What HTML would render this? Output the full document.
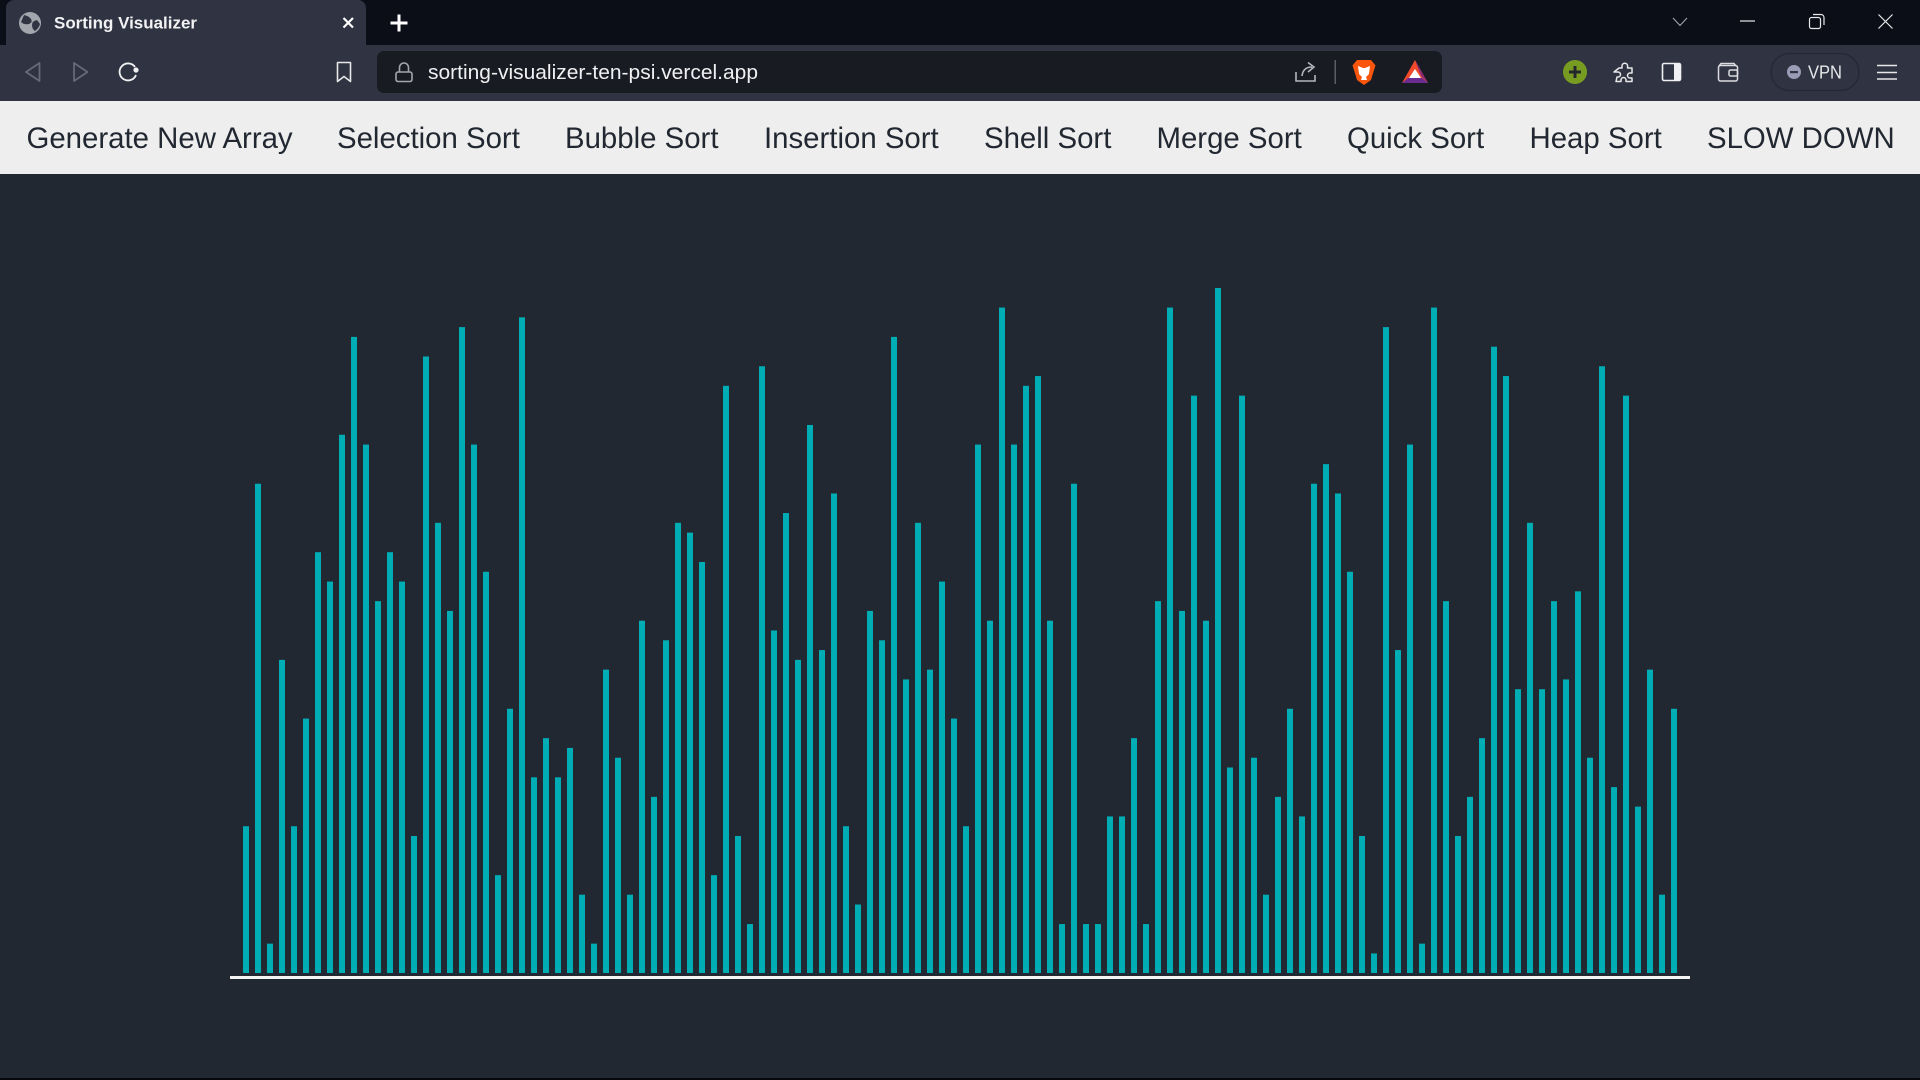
<!DOCTYPE html>
<html lang="en">
<head>
<meta charset="utf-8">
<title>Sorting Visualizer</title>
<style>
html,body{margin:0;padding:0;width:1920px;height:1080px;overflow:hidden;background:#222831;font-family:"Liberation Sans",sans-serif}
#chrome{position:absolute;left:0;top:0;width:1920px;height:101px;display:block}
#nav{position:absolute;left:0;top:101px;width:1920px;height:73px;background:#eeeeee}
.nb{position:absolute;top:0;height:73px;line-height:75px;font-size:29.39px;color:#222831;white-space:nowrap;cursor:pointer}
#chart{position:absolute;left:0;top:174px;width:1920px;height:906px;display:block}
</style>
</head>
<body>
<svg id="chrome" viewBox="0 0 1920 101" xmlns="http://www.w3.org/2000/svg">
  <rect x="0" y="0" width="1920" height="45" fill="#0c0e17"/>
  <rect x="0" y="45" width="1920" height="56" fill="#303442"/>
  <path d="M6 45V8a8 8 0 0 1 8-8H358a8 8 0 0 1 8 8V45Z" fill="#303442"/>
  <g>
    <circle cx="30" cy="23" r="11" fill="#a4a6ae"/>
    <path d="M24 15q5 1 7 4t-2 5q-5 1-8-2M37 20q-5 1-5 5t3 6q4-3 5-7Z" fill="#303442"/>
  </g>
  <text x="54" y="28.500" font-size="16.500" font-weight="bold" fill="#f2f2f4" textLength="143" lengthAdjust="spacingAndGlyphs" font-family="Liberation Sans, sans-serif">Sorting Visualizer</text>
  <path d="M343.500 18L353 27.500M353 18L343.500 27.500" stroke="#fff" stroke-width="2.200" fill="none"/>
  <path d="M399 14.500V31.500M390.500 23H407.500" stroke="#fff" stroke-width="3" fill="none"/>
  <path d="M1673 18L1680 25.500L1687 18" stroke="#a9abb2" stroke-width="1" fill="none"/>
  <path d="M1740 21H1755" stroke="#e8e8ea" stroke-width="1.200" fill="none"/>
  <g fill="none" stroke="#e8e8ea" stroke-width="1.200">
    <rect x="1809.500" y="17.500" width="11" height="11" rx="2"/>
    <path d="M1813 14.500H1821a3 3 0 0 1 3 3V25"/>
  </g>
  <path d="M1878.500 14.500L1892.500 28.500M1892.500 14.500L1878.500 28.500" stroke="#e8e8ea" stroke-width="1.200" fill="none"/>

  <path d="M39.500 63V81L26 72Z" fill="none" stroke="#666a76" stroke-width="1.800" stroke-linejoin="round"/>
  <path d="M74 63V81L87.500 72Z" fill="none" stroke="#666a76" stroke-width="1.800" stroke-linejoin="round"/>
  <g>
    <path d="M135 67A8.500 8.500 0 1 0 136 75" fill="none" stroke="#f0f0f2" stroke-width="1.800"/>
    <circle cx="136" cy="70" r="2.600" fill="#f0f0f2"/>
  </g>
  <path d="M337.500 62.500H350.500V81.500L344 76.500L337.500 81.500Z" fill="none" stroke="#e8e8ea" stroke-width="1.600" stroke-linejoin="round"/>

  <rect x="377" y="51" width="1065" height="42" rx="7" fill="#191b22"/>
  <g fill="none" stroke="#a4a6ae" stroke-width="1.600">
    <rect x="396" y="72" width="16" height="9.500" rx="2"/>
    <path d="M399.500 72V67.500a4.500 4.500 0 0 1 9 0V72"/>
  </g>
  <text x="428" y="79" font-size="20" fill="#f0f0f2" textLength="330" lengthAdjust="spacingAndGlyphs" font-family="Liberation Sans, sans-serif">sorting-visualizer-ten-psi.vercel.app</text>
  <path d="M1296 72V81H1315V75M1302 76Q1303 67 1312 67M1308 62.500L1314 67L1308 72" fill="none" stroke="#b4b6bc" stroke-width="1.600"/>
  <rect x="1334.500" y="60" width="1.500" height="24" fill="#5a5d66"/>
  <g>
    <path d="M1357 60H1371L1375.500 65.500L1374 70L1371 80L1364 85L1357 80L1354 70L1352.500 65.500Z" fill="#f9550d"/>
    <path d="M1358 66L1363 68H1365L1370 66L1369 74L1366 77L1367 80H1361L1362 77L1359 74Z" fill="#fff"/>
  </g>
  <g>
    <path d="M1415 60L1428 83H1402Z" fill="#f04a2a"/>
    <path d="M1415 60L1428 83L1421 76Z" fill="#8a2a78"/>
    <path d="M1402 83L1408 78H1422L1428 83Z" fill="#6a2c91"/>
    <path d="M1415 69L1421 78H1409Z" fill="#ffffff"/>
  </g>
  <g>
    <circle cx="1575" cy="72" r="12" fill="#789c22"/>
    <path d="M1575 66V78M1569 72H1581" stroke="#24282c" stroke-width="3"/>
  </g>
  <path d="M1619 68H1622V66a2.800 2.800 0 0 1 5.600 0V68H1632V73H1630a2.500 2.500 0 0 0 0 5H1632V81.500H1626V80a2.500 2.500 0 0 0-5 0V81.500H1616L1617 77H1618a2.500 2.500 0 0 0 0-5H1614L1619 68Z" fill="none" stroke="#e8e8ea" stroke-width="1.500" stroke-linejoin="round"/>
  <g>
    <rect x="1662.500" y="63.500" width="18" height="17" rx="1.500" fill="none" stroke="#f0f0f2" stroke-width="1.600"/>
    <rect x="1674" y="63.500" width="6.500" height="17" fill="#f0f0f2"/>
  </g>
  <g fill="none" stroke="#dcdce0" stroke-width="1.500">
    <rect x="1718.500" y="65.500" width="19" height="15.500" rx="2"/>
    <path d="M1719 66L1721 63.500H1734L1736 66"/>
    <rect x="1729" y="70" width="8.500" height="6" rx="1.500"/>
  </g>
  <g>
    <rect x="1771" y="53.500" width="88" height="37" rx="18.500" fill="none" stroke="#262935" stroke-width="1.500"/>
    <circle cx="1794" cy="72" r="7" fill="#9a9cb5"/>
    <rect x="1790" y="71" width="8" height="2.200" fill="#303442"/>
    <text x="1808" y="78.500" font-size="18" fill="#e8e8ea" textLength="34" lengthAdjust="spacingAndGlyphs" font-family="Liberation Sans, sans-serif">VPN</text>
  </g>
  <path d="M1877 65.500H1897M1877 72.500H1897M1877 79H1897" stroke="#e8e8ea" stroke-width="1.500" fill="none"/>
</svg>

<div id="nav">
  <div class="nb" style="left:26.500px">Generate New Array</div>
  <div class="nb" style="left:337px">Selection Sort</div>
  <div class="nb" style="left:565px">Bubble Sort</div>
  <div class="nb" style="left:764px">Insertion Sort</div>
  <div class="nb" style="left:984px">Shell Sort</div>
  <div class="nb" style="left:1156.500px">Merge Sort</div>
  <div class="nb" style="left:1347px">Quick Sort</div>
  <div class="nb" style="left:1529.500px">Heap Sort</div>
  <div class="nb" style="left:1707px">SLOW DOWN</div>
</div>

<svg id="chart" viewBox="0 174 1920 906" xmlns="http://www.w3.org/2000/svg">
  <g id="bars"></g>
  <rect x="230" y="976" width="1460" height="3" fill="#f4f4f4"/>
  <rect x="0" y="1078" width="1920" height="2" fill="#07080c"/>
</svg>

<script>
const arrayValues = [
  15,50,3,32,15,26,43,40,55,65,54,38,43,40,14,63,46,37,66,54,
  41,10,27,67,20,24,20,23,8,3,31,22,8,36,18,34,46,45,42,10,
  60,14,5,62,35,47,32,56,33,49,15,7,37,34,65,30,46,31,40,26,
  15,54,36,68,54,60,61,36,5,50,5,5,16,16,24,5,38,68,37,59,
  36,70,21,59,22,8,18,27,16,50,52,49,41,14,2,66,33,54,3,68,
  38,14,18,24,64,61,29,46,29,38,30,39,22,62,19,59,17,31,8,27
];

const BAR_LEFT = 243, BAR_PITCH = 12, BAR_WIDTH = 6, BAR_BOTTOM = 973, UNIT_PX = 9.786;
function xScale(i) { return BAR_LEFT + i * BAR_PITCH; }
function heightScale(v) { return v * UNIT_PX; }

const barsGroup = document.getElementById('bars');
arrayValues.forEach(function (v, i) {
  const r = document.createElementNS('http://www.w3.org/2000/svg', 'rect');
  r.setAttribute('x', xScale(i));
  r.setAttribute('y', BAR_BOTTOM - heightScale(v));
  r.setAttribute('width', BAR_WIDTH);
  r.setAttribute('height', heightScale(v));
  r.setAttribute('fill', '#00adb5');
  
  
  barsGroup.appendChild(r);
});
</script>
</body>
</html>
